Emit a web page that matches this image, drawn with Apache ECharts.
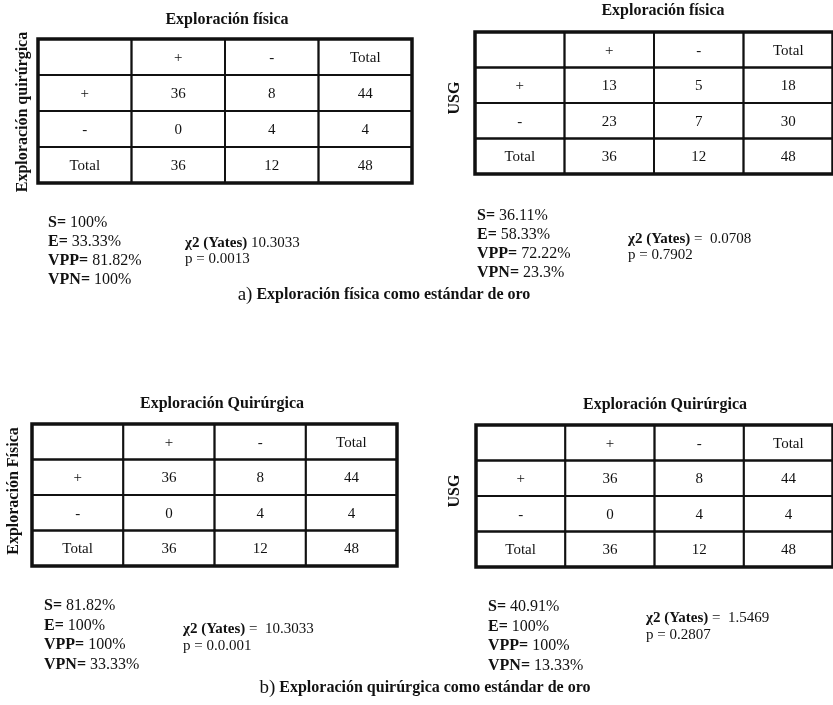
<!DOCTYPE html>
<html>
<head>
<meta charset="utf-8">
<script src="https://cdn.jsdelivr.net/npm/echarts@6/dist/echarts.min.js"></script>
<style>
html,body{margin:0;padding:0;background:#fff;}
#chart{width:833px;height:705px;}
</style>
</head>
<body>
<div id="chart"></div>
<script>
// ---- data ----
const colLabels = ['', '+', '-', 'Total'];
const rowLabels = ['+', '-', 'Total'];

const tableA1 = [[36, 8, 44], [0, 4, 4], [36, 12, 48]];   // Exploración quirúrgica vs física
const tableA2 = [[13, 5, 18], [23, 7, 30], [36, 12, 48]]; // USG vs Exploración física
const tableB1 = [[36, 8, 44], [0, 4, 4], [36, 12, 48]];   // Exploración física vs quirúrgica
const tableB2 = [[36, 8, 44], [0, 4, 4], [36, 12, 48]];   // USG vs Exploración quirúrgica

const titles = ['Exploración física', 'Exploración física', 'Exploración Quirúrgica', 'Exploración Quirúrgica'];
const sideLabels = ['Exploración quirúrgica', 'USG', 'Exploración Física', 'USG'];

const statNames = ['S=', 'E=', 'VPP=', 'VPN='];
const statsA1 = ['100%', '33.33%', '81.82%', '100%'];
const statsA2 = ['36.11%', '58.33%', '72.22%', '23.3%'];
const statsB1 = ['81.82%', '100%', '100%', '33.33%'];
const statsB2 = ['40.91%', '100%', '100%', '13.33%'];

const chiA1 = ['χ2 (Yates)', '10.3033', 'p = 0.0013'];
const chiA2 = ['χ2 (Yates)', '=  0.0708', 'p = 0.7902'];
const chiB1 = ['χ2 (Yates)', '=  10.3033', 'p = 0.0.001'];
const chiB2 = ['χ2 (Yates)', '=  1.5469', 'p = 0.2807'];

const captions = [['a)', 'Exploración física como estándar de oro'], ['b)', 'Exploración quirúrgica como estándar de oro']];

// ---- layout ----
const FONT = '"Liberation Serif", "DejaVu Serif", serif';
const INK = '#111';

const gridsLayout = [
  {left: 38, top: 39, width: 374, height: 144},
  {left: 475, top: 32, width: 364, height: 142},
  {left: 32, top: 424, width: 365, height: 142},
  {left: 476, top: 425, width: 364, height: 142}
];

function buildCells(table) {
  const cells = [];
  const texts = [];
  colLabels.forEach((c, i) => { cells.push([i, 0]); texts.push(c); });
  table.forEach((row, r) => {
    cells.push([0, r + 1]); texts.push(rowLabels[r]);
    row.forEach((v, c) => { cells.push([c + 1, r + 1]); texts.push(String(v)); });
  });
  return {cells, texts};
}

const tables = [tableA1, tableA2, tableB1, tableB2];

const grid = [], xAxis = [], yAxis = [], series = [];
tables.forEach((t, i) => {
  const g = gridsLayout[i];
  grid.push(Object.assign({show: true, borderColor: INK, borderWidth: 3.5, backgroundColor: '#fff', containLabel: false}, g));
  xAxis.push({gridIndex: i, type: 'category', data: [0, 1, 2, 3], show: false});
  yAxis.push({gridIndex: i, type: 'category', data: [0, 1, 2, 3], inverse: true, show: false});
  const {cells, texts} = buildCells(t);
  series.push({
    type: 'custom',
    xAxisIndex: i,
    yAxisIndex: i,
    data: cells,
    silent: true,
    renderItem: function (params, api) {
      const c = api.coord([api.value(0), api.value(1)]);
      const s = api.size([1, 1]);
      return {
        type: 'group',
        children: [
          {type: 'rect', shape: {x: c[0] - s[0] / 2, y: c[1] - s[1] / 2, width: s[0], height: s[1]},
           style: {fill: null, stroke: INK, lineWidth: 1.8}},
          {type: 'text', style: {text: texts[params.dataIndex], x: c[0], y: c[1] + 1, align: 'center', verticalAlign: 'middle',
            font: '15px ' + FONT, fill: INK}}
        ]
      };
    }
  });
});

const graphic = [];
function addText(text, x, y, opts) {
  graphic.push({
    type: 'text', x: x, y: y, rotation: (opts && opts.rotation) || 0, silent: true,
    style: Object.assign({text: text, fill: INK, align: 'left', verticalAlign: 'middle',
      font: '15px ' + FONT}, opts && opts.style)
  });
}

// titles
const titlePos = [[227, 20], [663, 11], [222, 404], [665, 405]];
titles.forEach((t, i) => addText(t, titlePos[i][0], titlePos[i][1], {style: {align: 'center', font: 'bold 16px ' + FONT}}));

// side labels (vertical)
const sidePos = [[23, 112], [455, 98], [14, 491], [455, 491]];
sideLabels.forEach((t, i) => addText(t, sidePos[i][0], sidePos[i][1], {rotation: Math.PI / 2, style: {align: 'center', font: 'bold 16px ' + FONT}}));

// stats blocks
function addStats(vals, x, y0, dy) {
  vals.forEach((v, k) => {
    graphic.push({
      type: 'text', x: x, y: y0 + k * dy, silent: true,
      style: {
        text: '{b|' + statNames[k] + '} ' + v,
        fill: INK, align: 'left', verticalAlign: 'middle', font: '16px ' + FONT,
        rich: {b: {fontWeight: 'bold', fontSize: 16, fontFamily: FONT, fill: INK}}
      }
    });
  });
}
function addChi(chi, x, y0, dy) {
  graphic.push({
    type: 'text', x: x, y: y0, silent: true,
    style: {
      text: '{b|' + chi[0] + '} ' + chi[1],
      fill: INK, align: 'left', verticalAlign: 'middle', font: '15px ' + FONT,
      rich: {b: {fontWeight: 'bold', fontSize: 15, fontFamily: FONT, fill: INK}}
    }
  });
  addText(chi[2], x, y0 + dy, {style: {font: '15px ' + FONT}});
}

addStats(statsA1, 48, 223, 19);
addChi(chiA1, 185, 243, 16);
addStats(statsA2, 477, 216, 19);
addChi(chiA2, 628, 239, 16);
addStats(statsB1, 44, 606, 19.5);
addChi(chiB1, 183, 629, 17);
addStats(statsB2, 488, 607, 19.5);
addChi(chiB2, 646, 618, 17);

// captions
function addCaption(cap, x, y) {
  graphic.push({
    type: 'text', x: x, y: y, silent: true,
    style: {
      text: '{a|' + cap[0] + '} {b|' + cap[1] + '}',
      fill: INK, align: 'center', verticalAlign: 'middle', font: '16px ' + FONT,
      rich: {
        a: {fontSize: 19, fontFamily: FONT, fill: INK},
        b: {fontWeight: 'bold', fontSize: 16, fontFamily: FONT, fill: INK}
      }
    }
  });
}
addCaption(captions[0], 384, 295);
addCaption(captions[1], 425, 688);

const chart = echarts.init(document.getElementById('chart'), null, {renderer: 'canvas'});
chart.setOption({
  backgroundColor: '#fff',
  animation: false,
  grid: grid,
  xAxis: xAxis,
  yAxis: yAxis,
  series: series,
  graphic: graphic
});
</script>
</body>
</html>
